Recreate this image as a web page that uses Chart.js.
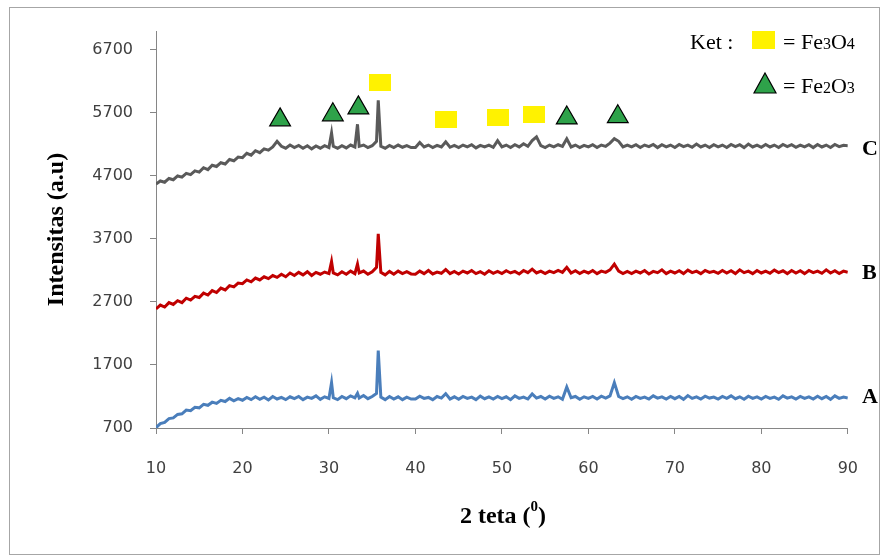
<!DOCTYPE html>
<html>
<head>
<meta charset="utf-8">
<script src="https://cdn.jsdelivr.net/npm/chart.js@4.4.1/dist/chart.umd.min.js"></script>
<style>
  body { margin: 0; background: #fff; }
</style>
</head>
<body>
<canvas id="xrd" width="883" height="557"></canvas>
<script>
// 2 theta (degrees)
const twoTheta = [
  10, 10.5, 11, 11.5, 12, 12.5, 13, 13.5, 14, 14.5,
  15, 15.5, 16, 16.5, 17, 17.5, 18, 18.5, 19, 19.5,
  20, 20.5, 21, 21.5, 22, 22.5, 23, 23.5, 24, 24.5,
  25, 25.5, 26, 26.5, 27, 27.5, 28, 28.5, 29, 29.5,
  30, 30.3, 30.5, 31, 31.5, 32, 32.5, 33, 33.3, 33.5, 34, 34.5,
  35, 35.5, 35.7, 36, 36.5, 37, 37.5, 38, 38.5, 39, 39.5,
  40, 40.5, 41, 41.5, 42, 42.5, 43, 43.5, 44, 44.5,
  45, 45.5, 46, 46.5, 47, 47.5, 48, 48.5, 49, 49.5,
  50, 50.5, 51, 51.5, 52, 52.5, 53, 53.5, 54, 54.5,
  55, 55.5, 56, 56.5, 57, 57.5, 58, 58.5, 59, 59.5,
  60, 60.5, 61, 61.5, 62, 62.5, 63, 63.5, 64, 64.5,
  65, 65.5, 66, 66.5, 67, 67.5, 68, 68.5, 69, 69.5,
  70, 70.5, 71, 71.5, 72, 72.5, 73, 73.5, 74, 74.5,
  75, 75.5, 76, 76.5, 77, 77.5, 78, 78.5, 79, 79.5,
  80, 80.5, 81, 81.5, 82, 82.5, 83, 83.5, 84, 84.5,
  85, 85.5, 86, 86.5, 87, 87.5, 88, 88.5, 89, 89.5,
  90
];

const sampleA = [
  705, 770, 790, 850, 860, 915, 925, 985, 975, 1030,
  1020, 1075, 1060, 1110, 1090, 1140, 1120, 1170, 1130, 1165,
  1140, 1185, 1150, 1195, 1155, 1190, 1145, 1200, 1160, 1185,
  1150, 1195, 1165, 1200, 1150, 1190, 1170, 1210, 1155, 1195,
  1170, 1420, 1180, 1150, 1200, 1165, 1210, 1180, 1250, 1175, 1215, 1165,
  1200, 1250, 1930, 1190, 1150, 1200, 1160, 1195, 1150, 1190, 1160,
  1160, 1205, 1170, 1185, 1150, 1200, 1175, 1245, 1160, 1195,
  1155, 1200, 1170, 1190, 1150, 1205, 1165, 1195, 1160, 1200,
  1165, 1195, 1150, 1210, 1170, 1190, 1160, 1240, 1175, 1200,
  1160, 1205, 1170, 1195, 1155, 1350, 1180, 1200, 1155, 1195,
  1170, 1200, 1160, 1205, 1175, 1210, 1420, 1200, 1165, 1195,
  1155, 1200, 1170, 1190, 1160, 1210, 1175, 1195, 1160, 1200,
  1165, 1200, 1155, 1215, 1170, 1195, 1160, 1205, 1175, 1190,
  1160, 1200, 1170, 1210, 1165, 1195, 1155, 1205, 1170, 1195,
  1160, 1200, 1170, 1190, 1155, 1210, 1175, 1195, 1160, 1200,
  1170, 1195, 1160, 1205, 1165, 1200, 1155, 1210, 1170, 1190,
  1175
];

const sampleB = [
  2590, 2650, 2620, 2690, 2660, 2720, 2690, 2760, 2730, 2790,
  2770, 2840, 2810, 2880, 2850, 2920, 2890, 2960, 2940, 3000,
  2990, 3050, 3020, 3080, 3050, 3100, 3070, 3120, 3090, 3140,
  3100, 3160, 3120, 3170, 3130, 3180, 3120, 3170, 3140, 3175,
  3150, 3340, 3160, 3130, 3180, 3140, 3190, 3150, 3300, 3160, 3190, 3140,
  3180, 3250, 3780, 3170, 3130, 3185, 3140, 3190, 3150, 3180, 3145,
  3140, 3190, 3150, 3200, 3145, 3175, 3155, 3215, 3150, 3185,
  3145, 3190, 3160, 3200, 3150, 3180, 3140, 3195, 3155, 3185,
  3150, 3195, 3160, 3185, 3145, 3200, 3165, 3220, 3160, 3190,
  3150, 3190, 3165, 3200, 3170, 3250, 3160, 3195, 3150, 3190,
  3160, 3200, 3150, 3190, 3170, 3210, 3300, 3190, 3150, 3185,
  3150, 3190, 3160, 3200, 3145, 3185, 3165, 3210, 3150, 3190,
  3160, 3195, 3150, 3205, 3165, 3190, 3150, 3200, 3170, 3185,
  3155, 3200, 3160, 3195, 3150, 3210, 3165, 3190, 3150, 3200,
  3160, 3190, 3155, 3205, 3165, 3195, 3150, 3200, 3160, 3195,
  3150, 3200, 3165, 3190, 3155, 3210, 3160, 3195, 3150, 3190,
  3170
];

const sampleC = [
  4570, 4620, 4600, 4660, 4640, 4700, 4680, 4740, 4720, 4780,
  4760, 4830, 4800, 4870, 4850, 4910, 4890, 4960, 4940, 5000,
  4990, 5060, 5030, 5100, 5070, 5130, 5110, 5160, 5250, 5170,
  5140, 5190, 5150, 5185, 5140, 5180, 5130, 5175, 5140, 5180,
  5150, 5380, 5170, 5140, 5180, 5145, 5190, 5160, 5520, 5170, 5190, 5150,
  5180, 5250, 5900, 5170, 5140, 5185, 5150, 5190, 5155, 5180, 5150,
  5150, 5230, 5160, 5190, 5150, 5185, 5160, 5240, 5155, 5185,
  5150, 5190, 5160, 5195, 5145, 5185, 5160, 5190, 5155, 5260,
  5160, 5190, 5150, 5195, 5160, 5210, 5170, 5260, 5320, 5180,
  5150, 5190, 5160, 5195, 5170, 5290, 5160, 5190, 5150, 5185,
  5160, 5195, 5150, 5190, 5170, 5220, 5290, 5250, 5160, 5190,
  5160, 5195, 5150, 5190, 5165, 5200, 5150, 5195, 5160, 5190,
  5150, 5200, 5165, 5190, 5155, 5205, 5160, 5190, 5150, 5195,
  5160, 5190, 5150, 5200, 5165, 5195, 5150, 5205, 5160, 5190,
  5155, 5200, 5160, 5190, 5150, 5200, 5165, 5195, 5155, 5190,
  5160, 5195, 5150, 5200, 5160, 5190, 5150, 5200, 5165, 5185,
  5180
];

const yTicks = [700, 1700, 2700, 3700, 4700, 5700, 6700];

// peak markers (Fe3O4 squares, Fe2O3 triangles)
const fe3o4X = [35.9, 43.5, 49.5, 53.7];
const fe3o4Y = [6190, 5590, 5620, 5670];
const fe2o3X = [24.35, 30.45, 33.4, 57.5, 63.4];
const fe2o3Y = [5590, 5670, 5780, 5620, 5640];

const pts = (xs, ys) => xs.map((x, i) => ({ x: x, y: ys[i] }));

const square = document.createElement('canvas');
square.width = 22; square.height = 17;
const sq = square.getContext('2d');
sq.fillStyle = '#fff200';
sq.fillRect(0, 0, 22, 17);

const serif = '"Liberation Serif", "Times New Roman", serif';

const extras = {
  id: 'extras',
  beforeDraw(chart) {
    const c = chart.ctx;
    c.save();
    c.fillStyle = '#fff';
    c.fillRect(0, 0, chart.width, chart.height);
    c.strokeStyle = '#a6a6a6';
    c.lineWidth = 1;
    c.strokeRect(9.5, 7.5, 870, 547);
    c.restore();
  },
  afterDraw(chart) {
    const c = chart.ctx;
    const a = chart.chartArea;
    c.save();
    c.fillStyle = '#000';

    // y title
    c.save();
    c.font = 'bold 24px ' + serif;
    c.translate(57, (a.top + a.bottom) / 2);
    c.rotate(-Math.PI / 2);
    c.textAlign = 'center';
    c.textBaseline = 'middle';
    c.fillText('Intensitas (a.u)', 0, 0);
    c.restore();

    // x title with superscript 0
    c.textBaseline = 'alphabetic';
    c.textAlign = 'left';
    const big = 'bold 24px ' + serif, small = 'bold 15px ' + serif;
    c.font = big;
    const w1 = c.measureText('2 teta (').width, w3 = c.measureText(')').width;
    c.font = small;
    const w2 = c.measureText('0').width;
    let x = 503 - (w1 + w2 + w3) / 2;
    c.font = big; c.fillText('2 teta (', x, 523); x += w1;
    c.font = small; c.fillText('0', x, 511); x += w2;
    c.font = big; c.fillText(')', x, 523);

    // series labels
    c.font = 'bold 22px ' + serif;
    c.textBaseline = 'middle';
    c.fillText('C', 862, 149);
    c.fillText('B', 862, 273);
    c.fillText('A', 862, 397);

    // legend
    c.textBaseline = 'alphabetic';
    c.font = '22px ' + serif;
    c.fillStyle = '#000';
    c.fillText('Ket :', 690, 49);
    c.fillStyle = '#fff200';
    c.fillRect(752, 31, 23, 18);
    c.beginPath();
    c.moveTo(765, 73); c.lineTo(776, 93); c.lineTo(754, 93); c.closePath();
    c.fillStyle = '#2ea24a'; c.fill();
    c.strokeStyle = '#000'; c.lineWidth = 1.2; c.stroke();

    const formula = (parts, y) => {
      let px = 783;
      parts.forEach(([t, sub]) => {
        c.font = (sub ? '16px ' : '22px ') + serif;
        c.fillStyle = '#000';
        c.fillText(t, px, y);
        px += c.measureText(t).width;
      });
    };
    formula([['= Fe', 0], ['3', 1], ['O', 0], ['4', 1]], 49);
    formula([['= Fe', 0], ['2', 1], ['O', 0], ['3', 1]], 93);
    c.restore();
  }
};

const lineSet = (label, data, color) => ({
  label: label,
  data: pts(twoTheta, data),
  borderColor: color,
  borderWidth: 3,
  pointRadius: 0,
  tension: 0,
  order: 2
});

new Chart(document.getElementById('xrd').getContext('2d'), {
  type: 'line',
  data: {
    datasets: [
      lineSet('A', sampleA, '#4a7ebb'),
      lineSet('B', sampleB, '#c00000'),
      lineSet('C', sampleC, '#5a5a5a'),
      {
        type: 'scatter', label: 'Fe3O4', data: pts(fe3o4X, fe3o4Y),
        pointStyle: square, pointRadius: 11, order: 1
      },
      {
        type: 'scatter', label: 'Fe2O3', data: pts(fe2o3X, fe2o3Y),
        pointStyle: 'triangle', pointRadius: 12,
        backgroundColor: '#2ea24a', borderColor: '#000', borderWidth: 1.2, order: 1
      }
    ]
  },
  options: {
    responsive: false,
    animation: false,
    devicePixelRatio: 1,
    layout: { padding: { left: 0, right: 30, top: 31, bottom: 0 } },
    plugins: { legend: { display: false }, tooltip: { enabled: false } },
    scales: {
      x: {
        type: 'linear', min: 10, max: 90,
        afterFit: (s) => { s.height = 129; },
        grid: { drawOnChartArea: false, tickLength: 6, color: '#868686' },
        border: { color: '#868686' },
        ticks: { stepSize: 10, padding: 25, color: '#404040', font: { family: 'DejaVu Sans', size: 16 } }
      },
      y: {
        type: 'linear', min: 700, max: 7000,
        afterFit: (s) => { s.width = 156; },
        afterBuildTicks: (s) => { s.ticks = yTicks.map(v => ({ value: v })); },
        grid: { drawOnChartArea: false, tickLength: 6, color: '#868686' },
        border: { color: '#868686' },
        ticks: {
          padding: 17, color: '#404040', font: { family: 'DejaVu Sans', size: 16 },
          callback: (v) => String(v)
        }
      }
    }
  },
  plugins: [extras]
});
</script>
</body>
</html>
